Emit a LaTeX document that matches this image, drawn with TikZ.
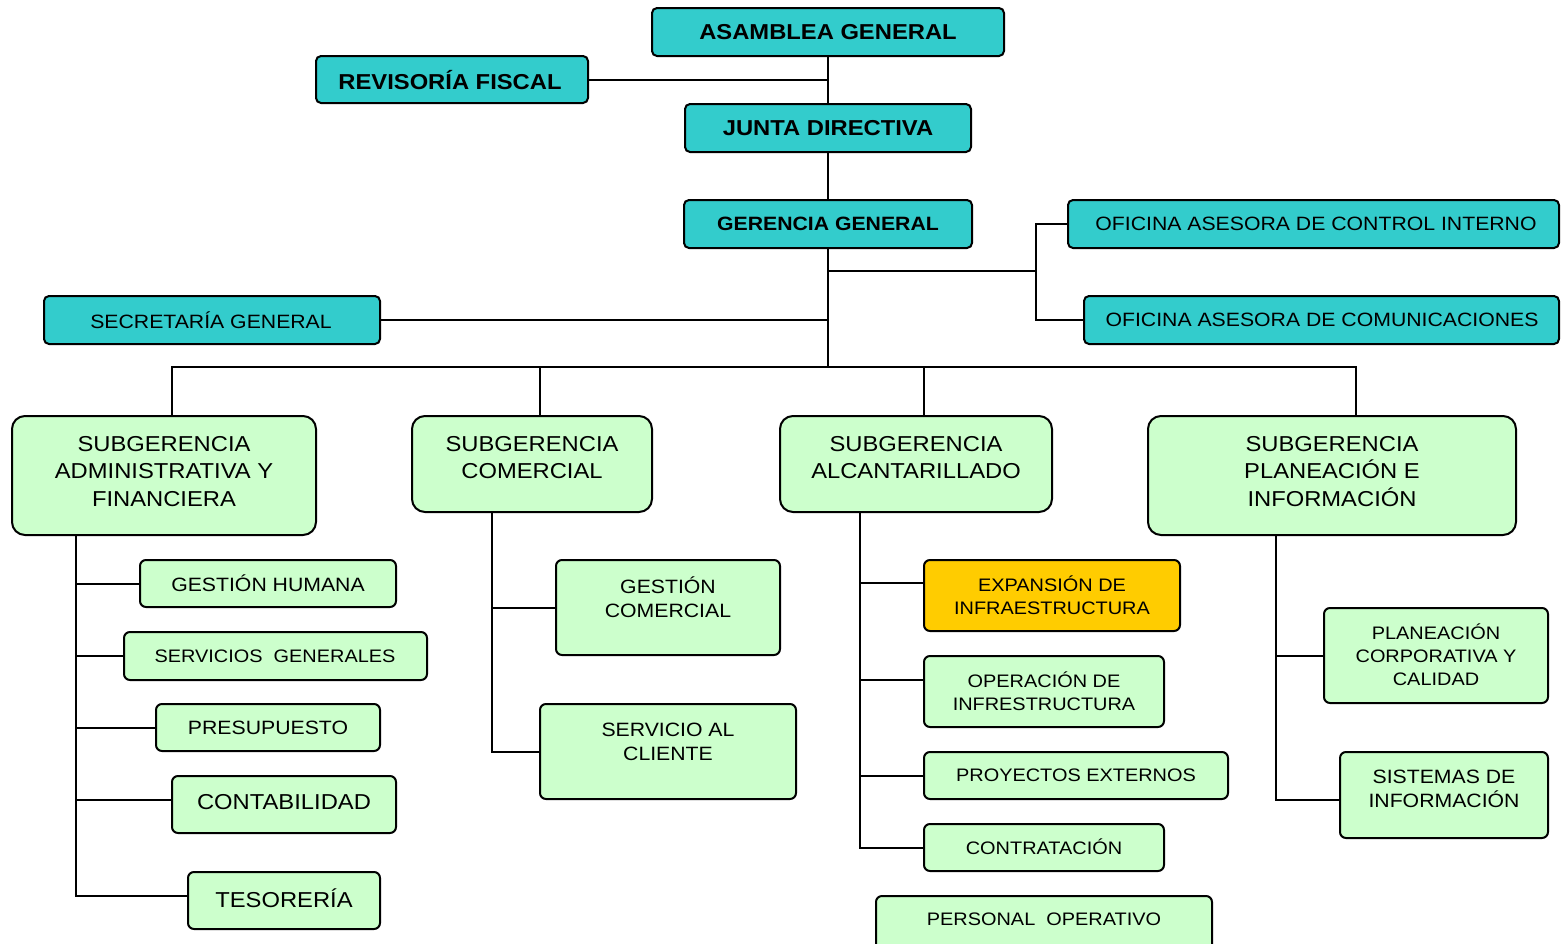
\documentclass[tikz,border=0pt]{standalone}
\usepackage{fontspec}
\setmainfont{Liberation Sans}[FakeStretch=1.1]
\definecolor{teal1}{HTML}{33CCCC}
\definecolor{green1}{HTML}{CCFFCC}
\definecolor{gold1}{HTML}{FFCC00}
\newcommand\fbig{\fontsize{21.6}{27.5}\selectfont}
\newcommand\fmid{\fontsize{19.3}{24}\selectfont}
\newcommand\fsml{\fontsize{18.1}{23}\selectfont}
\newcommand\obox[6]{%
  \node[box,#6,minimum width={#4-#2},minimum height={#5-#3}] (#1) at ({(#2+#4)/2},{(#3+#5)/2}) {};}
\tikzset{
  box/.style={draw=black,line width=2pt,rectangle,inner sep=0pt,outer sep=0pt},
  tbox/.style={fill=teal1,rounded corners=5pt},
  gbox/.style={fill=green1,rounded corners=6pt},
  sbox/.style={fill=green1,rounded corners=13pt},
  ybox/.style={fill=gold1,rounded corners=6pt},
  lbl/.style={inner sep=0pt,align=center,text=black},
  conn/.style={line width=2pt,draw=black,line cap=rect}
}
\begin{document}
\begin{tikzpicture}[x=1pt,y=-1pt]
\useasboundingbox[fill=white] (0,0) rectangle (1561,943);
% hub coordinates
\coordinate (hub) at (828,367);
\coordinate (ofj) at (1036,271);
\coordinate (d1) at (172,367);
\coordinate (d2) at (540,367);
\coordinate (d3) at (924,367);
\coordinate (d4) at (1356,367);
\coordinate (va) at (76,0);
\coordinate (vc) at (492,0);
\coordinate (vl) at (860,0);
\coordinate (vp) at (1276,0);
% top boxes
\obox{asamblea}{652}{8}{1004}{56}{tbox}
\obox{revisoria}{316}{56}{588}{103}{tbox}
\obox{junta}{685}{104}{971}{152}{tbox}
\obox{gerencia}{684}{200}{972}{248}{tbox}
\obox{control}{1068}{200}{1559}{248}{tbox}
\obox{comunic}{1084}{296}{1559}{344}{tbox}
\obox{secretaria}{44}{296}{380}{344}{tbox}
% subgerencias
\obox{admin}{12}{416}{316}{535}{sbox}
\obox{comercial}{412}{416}{652}{512}{sbox}
\obox{alcant}{780}{416}{1052}{512}{sbox}
\obox{planea}{1148}{416}{1516}{535}{sbox}
% admin children
\obox{humana}{140}{560}{396}{607}{gbox}
\obox{servicios}{124}{632}{427}{680}{gbox}
\obox{presupuesto}{156}{704}{380}{751}{gbox}
\obox{contabilidad}{172}{776}{396}{833}{gbox}
\obox{tesoreria}{188}{872}{380}{929}{gbox}
% comercial children
\obox{gcomercial}{556}{560}{780}{655}{gbox}
\obox{cliente}{540}{704}{796}{799}{gbox}
% alcantarillado children
\obox{expansion}{924}{560}{1180}{631}{ybox}
\obox{operacion}{924}{656}{1164}{727}{gbox}
\obox{proyectos}{924}{752}{1228}{799}{gbox}
\obox{contratacion}{924}{824}{1164}{871}{gbox}
\obox{personal}{876}{896}{1212}{952}{gbox}
% planeacion children
\obox{pcorp}{1324}{608}{1548}{703}{gbox}
\obox{sistemas}{1340}{752}{1548}{838}{gbox}
% connection points offset from box centres
\coordinate (cbp) at ([yshift=4.5pt]contabilidad.west);
\coordinate (tsp) at ([yshift=4.5pt]tesoreria.west);
\coordinate (exp) at ([yshift=12.5pt]expansion.west);
\coordinate (opp) at ([yshift=11.5pt]operacion.west);
\coordinate (sip) at ([yshift=-5pt]sistemas.west);
% labels
\node[lbl,font=\fbig\bfseries] (asamblea-t) at (828,32) {ASAMBLEA GENERAL};
\node[lbl,font=\fbig\bfseries] (revisoria-t) at (450,80) {REVISORÍA FISCAL};
\node[lbl,font=\fbig\bfseries] (junta-t) at (828,128) {JUNTA DIRECTIVA};
\node[lbl,font=\fmid\bfseries] (gerencia-t) at (828,224) {GERENCIA GENERAL};
\node[lbl,font=\fmid] (control-t) at (1316,224) {OFICINA ASESORA DE CONTROL INTERNO};
\node[lbl,font=\fmid] (comunic-t) at (1322,320) {OFICINA ASESORA DE COMUNICACIONES};
\node[lbl,font=\fmid] (secretaria-t) at (211,320) {SECRETARÍA GENERAL};
\node[lbl,font=\fbig] (admin-t) at (164,471.5) {SUBGERENCIA\\ADMINISTRATIVA Y\\FINANCIERA};
\node[lbl,font=\fbig] (comercial-t) at (532,457.5) {SUBGERENCIA\\COMERCIAL};
\node[lbl,font=\fbig] (alcant-t) at (916,457.5) {SUBGERENCIA\\ALCANTARILLADO};
\node[lbl,font=\fbig] (planea-t) at (1332,471.5) {SUBGERENCIA\\PLANEACIÓN E\\INFORMACIÓN};
\node[lbl,font=\fmid] (humana-t) at (268,583) {GESTIÓN HUMANA};
\node[lbl,font=\fsml] (servicios-t) at (275,656) {SERVICIOS\ \ GENERALES};
\node[lbl,font=\fmid] (presupuesto-t) at (268,728) {PRESUPUESTO};
\node[lbl,font=\fbig] (contabilidad-t) at (284,802) {CONTABILIDAD};
\node[lbl,font=\fbig] (tesoreria-t) at (284,898) {TESORERÍA};
\node[lbl,font=\fmid] (gcomercial-t) at (668,597) {GESTIÓN\\COMERCIAL};
\node[lbl,font=\fmid] (cliente-t) at (668,742) {SERVICIO AL\\CLIENTE};
\node[lbl,font=\fsml] (expansion-t) at (1052,595.5) {EXPANSIÓN DE\\INFRAESTRUCTURA};
\node[lbl,font=\fsml] (operacion-t) at (1044,691.5) {OPERACIÓN DE\\INFRESTRUCTURA};
\node[lbl,font=\fsml] (proyectos-t) at (1076,775) {PROYECTOS EXTERNOS};
\node[lbl,font=\fsml] (contratacion-t) at (1044,847) {CONTRATACIÓN};
\node[lbl,font=\fsml] (personal-t) at (1044,919) {PERSONAL\ \ OPERATIVO};
\node[lbl,font=\fsml] (pcorp-t) at (1436,655) {PLANEACIÓN\\CORPORATIVA Y\\CALIDAD};
\node[lbl,font=\fmid] (sistemas-t) at (1444,789) {SISTEMAS DE\\INFORMACIÓN};
% connectors: top
\draw[conn] (asamblea.south) -- (junta.north);
\draw[conn] (revisoria.east) -- (revisoria.east -| asamblea.south);
\draw[conn] (junta.south) -- (gerencia.north);
\draw[conn] (gerencia.south) -- (hub);
\draw[conn] (gerencia.south |- ofj) -- (ofj);
\draw[conn] (control.west) -| (ofj) |- (comunic.west);
\draw[conn] (secretaria.east) -- (secretaria.east -| hub);
% bus to subgerencias
\draw[conn] (d1) -- (d4);
\draw[conn] (d1) -- (d1 |- admin.north);
\draw[conn] (d2) -- (d2 |- comercial.north);
\draw[conn] (d3) -- (d3 |- alcant.north);
\draw[conn] (d4) -- (d4 |- planea.north);
% admin branch
\draw[conn] (va |- admin.south) |- (tsp);
\draw[conn] (va |- humana.west) -- (humana.west);
\draw[conn] (va |- servicios.west) -- (servicios.west);
\draw[conn] (va |- presupuesto.west) -- (presupuesto.west);
\draw[conn] (va |- cbp) -- (cbp);
% comercial branch
\draw[conn] (vc |- comercial.south) |- (cliente.west);
\draw[conn] (vc |- gcomercial.west) -- (gcomercial.west);
% alcantarillado branch
\draw[conn] (vl |- alcant.south) |- (contratacion.west);
\draw[conn] (vl |- exp) -- (exp);
\draw[conn] (vl |- opp) -- (opp);
\draw[conn] (vl |- proyectos.west) -- (proyectos.west);
% planeacion branch
\draw[conn] (vp |- planea.south) |- (sip);
\draw[conn] (vp |- pcorp.west) -- (pcorp.west);
\end{tikzpicture}
\end{document}
